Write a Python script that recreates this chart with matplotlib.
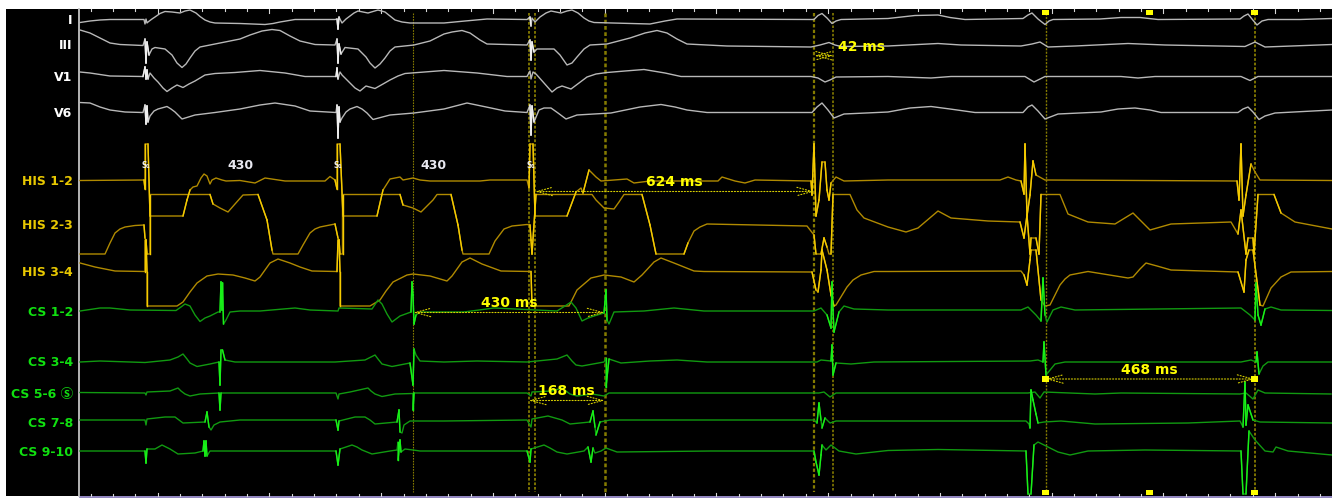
import numpy as np
import matplotlib
matplotlib.use('Agg')
import matplotlib.pyplot as plt
from matplotlib.patches import Rectangle

plt.rcParams['font.family'] = ['DejaVu Sans', 'Noto Sans CJK JP']

# every trace as (sample position, deflection)
lead_I = [(80,22.5),(90,21),(100,20),(110,19.5),(144,19.5),(145,24),(146,19),(147,23),(148,22),(152,19),(155,17),(160,13.5),(165,11.5),(172,12),(180,13),(185,11),(190,10),(196,13),(200,16.5),(205,20),(210,22),(215,23),(240,23.5),(265,24.5),(273,23.5),(280,22),(295,19.5),(335,19.5),(337,19),(338,29),(339,17),(342,23),(346,19),(350,16),(354,13),(358,11),(368,13),(373,11.5),(378,10),(385,12),(390,16),(395,20),(402,22),(410,23),(444,23),(465,21),(487,19),(527,19.5),(530,17),(531,26),(532,18),(535,22),(540,17),(546,13),(551,11),(561,13),(567,11),(572,10),(578,13),(584,18),(589,21),(594,22.5),(650,24),(665,21),(677,19),(814,19.5),(818,15.5),(822,13.5),(827,18),(832,23.5),(836,21),(841,19.5),(888,18.5),(915,15.5),(938,15),(950,17.5),(965,19.5),(1023,18.5),(1028,15),(1032,13),(1038,19),(1045,24.5),(1049,21),(1053,19.5),(1100,19),(1121,17.5),(1140,17.5),(1158,19.5),(1240,19),(1244,16),(1248,14),(1252,19),(1257,25),(1262,21),(1268,19.5),(1300,19.5),(1332,18.5)]
lead_III = [(80,30),(90,33),(100,38),(110,43),(120,44.5),(143,45.5),(145,39),(146,63),(147,42),(149,55),(152,49),(155,47.5),(165,49),(172,55),(177,63),(182,67.5),(186,64),(190,58),(195,51),(200,47),(210,45),(225,42),(240,39),(250,35),(262,31),(272,29.5),(280,30.5),(290,36),(300,41),(315,44.5),(335,45),(337,39),(338,63),(339,44),(341,54),(345,47.5),(358,49),(366,57),(370,63),(375,68),(380,64),(385,58),(390,51),(395,47),(414,45),(430,41),(444,34),(452,32),(462,30.5),(470,33),(480,40),(487,44),(527,45),(530,40),(531,60),(532,42),(534,52),(537,49),(554,49),(560,55),(567,65),(572,63),(577,57),(584,49),(590,45),(607,44),(630,38),(645,33),(657,30.5),(667,33),(677,39),(687,44),(727,46),(811,47),(820,45),(829,42.5),(835,45),(841,46.5),(888,46),(938,43.5),(961,45),(1021,46),(1032,44),(1040,42),(1048,47),(1075,46),(1128,43.5),(1165,45),(1245,46.5),(1255,42),(1265,47),(1332,44.5)]
lead_V1 = [(80,72),(90,73),(110,76),(143,76.5),(145,67),(146,79),(147,70),(148,79),(150,73),(154,78),(158,82),(163,88),(167,91.5),(172,88),(177,85),(183,87.5),(189,84),(195,81),(205,75),(215,73.5),(235,72.5),(260,70.5),(285,73),(305,76.5),(336,76.5),(337,68),(338,79),(340,72),(342,75),(350,83),(355,88),(360,91),(366,86),(375,88.5),(383,84),(390,80),(398,76),(405,73.5),(444,70.5),(477,73),(507,76.5),(527,76.5),(530,71),(531,79),(533,72),(536,74),(544,83),(552,92),(557,88),(562,86),(571,89),(579,83),(587,77),(596,74),(607,72.5),(625,71),(644,69.5),(665,73),(681,76.5),(811,76.5),(818,78),(825,82),(830,80),(836,77),(888,76.5),(931,78),(951,76.5),(1025,76.5),(1034,82),(1040,79),(1045,76.5),(1121,76.5),(1138,78),(1155,76.5),(1241,76.5),(1250,80.5),(1258,76.5),(1332,76.5)]
lead_V6 = [(80,102.5),(90,103),(100,107),(110,110),(125,112),(143,112.5),(145,105),(146,124),(147,106),(148,122),(150,116),(154,111),(158,109),(167,106.5),(171,109),(175,112),(182,119),(195,115),(215,112.5),(240,109),(260,105),(275,103),(295,106),(310,111),(336,112.5),(337,105),(338,138),(339,107),(340,122),(342,118),(346,112),(350,109),(357,106.5),(362,109),(367,113),(373,119.5),(390,115),(414,113),(444,109),(467,103),(491,108),(505,111),(527,112.5),(530,105),(531,135),(532,106),(534,122),(539,110),(544,108),(551,108),(558,113),(566,119),(577,115),(611,113),(640,107),(661,104.5),(675,107),(687,110),(707,112.5),(812,112.5),(817,107),(822,103),(828,110),(834,118),(844,114),(888,112),(910,108),(931,106.5),(950,109),(975,112.5),(1023,112.5),(1028,107),(1032,105),(1038,111),(1045,119),(1058,114),(1101,112),(1118,109),(1135,108),(1150,110),(1161,112.5),(1238,112.5),(1243,109),(1248,107),(1253,112),(1259,119.5),(1265,116),(1275,113),(1332,110)]

his_12 = [(80,180.5),(144,180),(145,189),(145,144),(148,144),(150,216),(183,216),(187,200),(190,190),(193,187),(197,186),(201,178),(204,174),(207,176),(210,184),(212,180),(216,178),(222,180),(226,181),(240,180.5),(255,183),(265,178),(285,181),(325,181),(330,176.5),(335,180),(337,189),(337,144),(340,144),(343,216),(377,216),(383,190),(390,179),(400,177),(403,180),(413,178),(420,180),(430,181),(460,181),(480,181),(490,180),(527,180),(529,188),(530,144),(533,144),(535,216),(567,216),(576,192),(581,188),(583,193),(589,170),(596,177),(601,181),(627,179),(634,183),(650,181),(718,181),(722,177),(735,181),(745,183),(755,180),(811,181),(812,195),(814,144),(816,216),(819,200),(822,162),(825,162),(827,190),(829,200),(831,183),(836,177),(844,181),(888,180),(1000,180),(1008,177),(1016,180),(1021,181),(1024,194),(1025,144),(1027,216),(1030,195),(1033,161),(1036,175),(1045,180),(1237,181),(1239,200),(1241,144),(1243,216),(1246,195),(1251,164),(1255,172),(1260,180),(1332,180.5)]
his_23 = [(80,254),(105,254),(110,243),(115,233),(120,229),(125,227),(135,225.5),(144,225),(145,238),(146,240),(147,254),(150,254),(150,194.5),(210,194.5),(213,204),(220,208),(228,212),(235,204),(243,195),(258,194.5),(267,220),(272,250),(273,254),(298,254),(303,245),(310,233),(315,229),(320,227),(335,224),(338,238),(339,240),(340,254),(342.5,254),(342.5,194.5),(400,194.5),(403,205),(413,208),(421,212),(427,206),(433,200),(437,194.5),(451,194.5),(458,225),(462,250),(463,254),(489,254),(495,241),(504,229),(512,226),(527,224.5),(530,225),(531,240),(532,254),(536,194.5),(592,194.5),(596,200),(604,208),(614,209),(619,202),(624,194.5),(642,194.5),(650,225),(656,254),(684,254),(688,243),(694,231),(700,227),(707,224),(807,226),(814,235),(816,254),(821,254),(824,238),(827,247),(829,254),(831,254),(833,194.5),(850,194.5),(857,210),(864,218),(888,227),(906,232),(918,228),(938,211),(951,218),(988,221),(1020,222),(1024,238),(1027,215),(1030,254),(1031,238),(1036,238),(1039,254),(1041,194.5),(1060,194.5),(1068,214),(1088,222),(1115,224),(1133,213),(1150,230),(1171,224),(1231,222),(1238,234),(1241,210),(1246,254),(1248,238),(1253,238),(1254,254),(1258,194.5),(1274,194.5),(1281,213),(1295,222),(1332,229)]
his_34 = [(80,263),(95,267),(115,271),(145,271.5),(145,240),(146,240),(147,271.5),(147,306),(177,306),(183,302),(190,292),(197,283),(207,276),(218,274),(233,275),(245,278),(255,281),(260,277),(265,270),(270,263),(278,259),(290,263),(300,267),(312,271),(337,271.5),(338,240),(339,240),(340,271.5),(340,306),(370,306),(380,300),(386,291),(393,282),(407,275),(413,274),(430,276),(447,281),(452,276),(462,262),(470,258),(482,264),(501,271),(531,271.5),(532,306),(569,306),(577,290),(591,278),(604,275),(621,277),(634,282),(642,275),(654,262),(661,258),(674,263),(694,271),(704,271.5),(812,272),(816,290),(818,292),(821,270),(822,250),(827,270),(831,295),(834,306),(836,305),(847,287),(853,280),(861,275),(874,271.5),(888,271.5),(1021,271),(1024,275),(1027,285),(1030,260),(1031,250),(1036,250),(1041,300),(1045,306),(1050,305),(1060,285),(1065,279),(1070,275),(1088,271.5),(1128,278),(1133,277),(1140,269),(1146,263),(1157,266),(1171,270),(1238,272),(1244,292),(1246,260),(1249,250),(1253,250),(1260,305),(1263,306),(1271,288),(1281,277),(1291,272),(1332,271.5)]

cs_12 = [(80,311),(90,309.5),(100,308),(110,308),(130,310),(176,310.5),(181,307),(185,304),(190,306),(195,315),(200,321.5),(205,318),(210,316),(218,312),(220,312),(221,282),(222,310),(222.5,283),(223.5,324),(226,320),(230,312),(240,311),(260,311),(295,308),(310,310),(338,311),(339,308),(372,309),(378,300),(382,304),(387,314),(392,322),(400,316),(411,312),(412,282),(413,295),(414,324),(416,315),(420,312),(444,312),(464,312),(494,308),(557,311),(565,306),(571,302),(576,308),(582,321),(588,318),(594,316),(604,313),(606,290),(607,320),(609,324),(614,312),(644,311),(674,308),(704,311),(814,311),(821,308),(827,315),(831,328),(832,282),(833,310),(834,332),(839,312),(844,306),(854,309),(888,310),(1021,310),(1028,307),(1036,315),(1041,321),(1043,278),(1045,315),(1047,322),(1053,310),(1061,307),(1075,310),(1241,308),(1250,315),(1255,320),(1256,283),(1258,315),(1261,325),(1265,309),(1271,307),(1281,310),(1332,310.5)]
cs_34 = [(80,362),(100,361),(145,362.5),(170,360),(178,357),(183,354),(187,359),(190,363),(197,366.5),(210,364),(219,362),(220,385),(221,350),(222.5,350),(225,360),(235,362),(335,362),(365,360),(375,355),(378,359),(382,364),(392,366.5),(410,363),(413,385),(414,349),(416,355),(420,361),(444,362),(477,361),(527,362),(557,359),(567,355),(572,361),(576,365),(582,366),(604,362),(606,358),(606,387),(609,359),(621,363),(650,361),(677,360),(707,362),(817,362),(821,360),(831,361),(832,345),(833,375),(836,363),(851,364),(874,362),(1030,361),(1038,360),(1043,362),(1044,342),(1046,375),(1055,364),(1065,362),(1241,362),(1251,360),(1256,362),(1257,352),(1259,374),(1263,366),(1268,362),(1332,362)]
cs_56 = [(80,392.5),(145,393),(146,395),(147,392),(170,391),(178,388),(181,391),(185,394),(190,396),(200,394),(219,393),(220,410),(221,393),(336,393),(338,399),(339,394),(350,392),(368,388),(371,391),(375,394),(382,396.5),(395,394),(413,393.5),(413,410),(414,393),(527,393),(531,396),(532,392),(552,391),(562,388),(566,391),(570,394),(577,396),(592,394),(604,396),(609,393),(819,393),(824,392),(830,397),(836,393),(1028,393),(1035,392),(1040,398),(1044,392),(1095,394),(1121,393),(1240,394),(1246,393),(1253,399),(1258,390),(1265,393),(1331,394)]
cs_78 = [(80,420),(145,420),(146,425),(147,419),(165,417),(175,417),(179,420),(183,423),(205,422),(207,412),(209,427),(211,430),(214,425),(220,422),(240,420),(336,420),(338,430),(339,421),(355,417),(365,417),(370,420),(375,424),(397,422),(399,410),(400,432),(402,433),(404,425),(410,421),(444,421),(527,420),(531,427),(532,419),(548,416),(562,420),(570,424),(590,422),(593,411),(595,427),(596,435),(600,422),(610,420),(814,420),(817,423),(819,403),(821,420),(822,428),(825,418),(830,423),(836,421),(888,421),(1026,421),(1029,424),(1030,428),(1031,390),(1033,400),(1036,414),(1038,423),(1044,422),(1061,421),(1095,424),(1188,423),(1240,421),(1243,427),(1245,382),(1246,425),(1248,405),(1253,420),(1260,422),(1332,423)]
cs_910 = [(80,451),(145,451),(146,463),(147,449),(155,449),(162,445),(166,447),(170,449),(178,454),(195,453),(203,451),(204,441),(205,456),(206,441),(207,456),(210,451),(336,451),(338,465),(340,449),(352,445),(357,447),(362,450),(372,454),(390,451),(397,450),(398,442),(398,460),(400,440),(401,452),(405,449),(413,450),(420,451),(527,451),(530,462),(531,449),(544,445),(550,448),(557,452),(567,454),(584,451),(588,447),(591,462),(593,448),(595,453),(601,451),(606,448),(617,452),(711,451),(814,451),(816,462),(819,475),(821,455),(822,445),(826,450),(831,445),(839,451),(856,454),(888,450.5),(938,449.5),(1026,451),(1028,494),(1031,494),(1034,445),(1038,442),(1044,445),(1058,452),(1070,455),(1088,451),(1145,450),(1241,451),(1243,494),(1246,494),(1249,431),(1255,440),(1265,451),(1273,452),(1276,447),(1288,451),(1332,455)]

ecg_traces = [lead_I, lead_III, lead_V1, lead_V6]
his_traces = [his_12, his_23, his_34]
cs_traces = [cs_12, cs_34, cs_56, cs_78, cs_910]

ecg_labels = ['I', 'III', 'V1', 'V6']
ecg_label_y = [20, 45, 77, 113]
his_labels = ['HIS 1-2', 'HIS 2-3', 'HIS 3-4']
his_label_y = [181, 225, 272]
cs_labels = ['CS 1-2', 'CS 3-4', 'CS 5-6 \u24c8', 'CS 7-8', 'CS 9-10']
cs_label_y = [312, 362, 394, 423, 452]

cursors = [413.3, 528.7, 535, 604.7, 814.3, 833.3, 1045.7, 1254.7]
cursor_lw = [0.8, 1.3, 1.3, 1.8, 1.6, 1.2, 1.0, 1.3]

# start, end, height of each measured interval and its caption
calipers = [(535, 814.3, 191.5, '624 ms', 674, 181.5),
            (814.3, 833.3, 55.7, '42 ms', 862, 46.5),
            (413.3, 604.7, 312.5, '430 ms', 509, 302.7),
            (528.7, 604.7, 400.5, '168 ms', 566, 391),
            (1045.7, 1254.7, 379, '468 ms', 1149.7, 370)]

stim_x = [146, 338, 531]
cycle_labels = [('430', 241), ('430', 433.5)]
marker_pts = [(1045.7, 12.5), (1149.7, 12.5), (1254.7, 12.5),
              (1045.7, 492.5), (1149.7, 492.5), (1254.7, 492.5),
              (1045.7, 379), (1254.7, 379)]


def draw_trace(ax, pts, dim, bright, lw=1.0):
    x = np.array([p[0] for p in pts], dtype=float)
    y = np.array([p[1] for p in pts], dtype=float)
    ax.plot(x, y, color=dim, lw=lw, solid_joinstyle='round', zorder=3)
    # the steep deflections come out brighter on the screen
    for i in range(len(x) - 1):
        dx = abs(x[i+1] - x[i])
        dy = abs(y[i+1] - y[i])
        if dy > 8 and dy > 2.5 * dx:
            ax.plot(x[i:i+2], y[i:i+2], color=bright, lw=lw, zorder=4)


fig = plt.figure(figsize=(13.32, 4.98), dpi=100)
ax = fig.add_axes([0, 0, 1, 1])
ax.set_xlim(0, 1332)
ax.set_ylim(498, 0)
ax.axis('off')
ax.add_patch(Rectangle((6, 9.3), 1326, 486.7, facecolor='black', edgecolor='none', zorder=0))
ax.plot([80, 1332], [497, 497], color='#7d70b4', lw=1.2, zorder=1)
ax.plot([78.5, 78.5], [9.3, 496], color='#c4c4c4', lw=1.3, zorder=1)

ticks = 180 + 22.35 * np.arange(-4, 52)
ticks = ticks[(ticks > 82) & (ticks < 1330)]
for t in ticks:
    k = (t - 493) / 22.35 % 5
    h = 3.5 if k < 0.1 or k > 4.9 else 2
    ax.plot([t, t], [9.3, 9.3 + h], color='#d8d8d8', lw=0.8, zorder=1)
    ax.plot([t, t], [496, 496 - h], color='#d8d8d8', lw=0.8, zorder=1)

for c, w in zip(cursors, cursor_lw):
    ax.plot([c, c], [13, 492], color='#857b00', lw=w, ls=(0, (1.5, 1)), zorder=2)

for tr in ecg_traces:
    draw_trace(ax, tr, '#b8b8b8', '#f0f0f0')
for tr in his_traces:
    draw_trace(ax, tr, '#b08a00', '#f5cb00')
for tr in cs_traces:
    draw_trace(ax, tr, '#119a11', '#18f018')

for lab, y in zip(ecg_labels, ecg_label_y):
    ax.text(72.5, y, lab, color='white', fontsize=9, fontweight='bold', ha='right', va='center', zorder=5)
for lab, y in zip(his_labels, his_label_y):
    ax.text(73, y, lab, color='#e8c800', fontsize=9, fontweight='bold', ha='right', va='center', zorder=5)
for lab, y in zip(cs_labels, cs_label_y):
    ax.text(73, y, lab, color='#10e010', fontsize=9, fontweight='bold', ha='right', va='center', zorder=5)

for x0, x1, y, txt, tx, ty in calipers:
    ax.annotate('', xy=(x1, y), xytext=(x0, y), zorder=6,
                arrowprops=dict(arrowstyle='<->,head_length=1.1,head_width=0.3', color='#d8d000',
                                lw=0.8, ls=':', shrinkA=0, shrinkB=0, mutation_scale=10))
    ax.text(tx, ty, txt, color='#ffff00', fontsize=10, fontweight='bold', ha='center', va='center', zorder=7)

for x in stim_x:
    ax.text(x, 165.5, 'S\u2081', color='#f0f0f0', fontsize=5.5, fontweight='bold', ha='center', va='center', zorder=5)
for txt, x in cycle_labels:
    ax.text(x, 165.5, txt, color='#e8e8f0', fontsize=9, fontweight='bold', ha='center', va='center', zorder=5)

for x, y in marker_pts:
    ax.add_patch(Rectangle((x - 3.5, y - 2.7), 7, 5.4, facecolor='#ffff00', edgecolor='none', zorder=8))

fig.savefig('out.png', dpi=100)
